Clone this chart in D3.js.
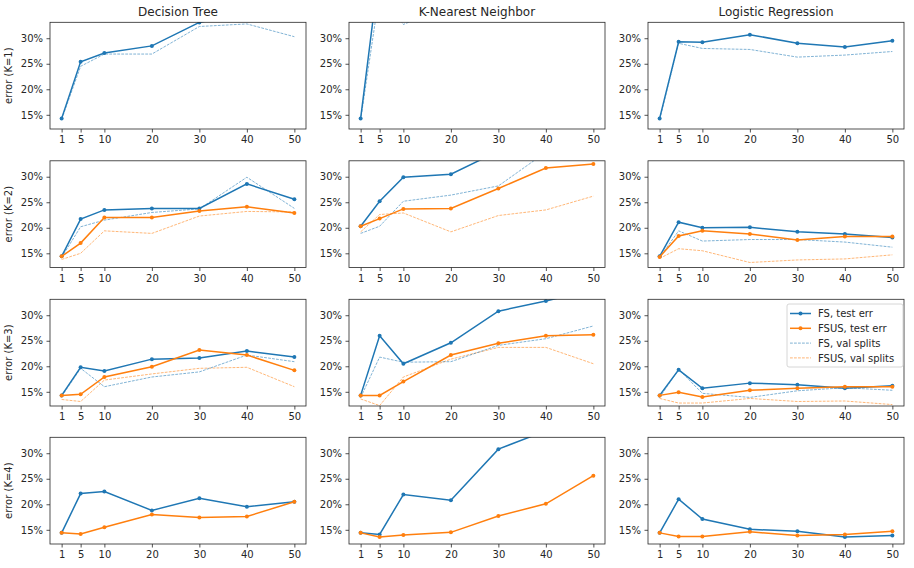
<!DOCTYPE html>
<html><head><meta charset="utf-8">
<script src="https://cdn.jsdelivr.net/npm/d3@7"></script>
<style>body{margin:0;background:#fff}svg{display:block}text{font-family:"DejaVu Sans",sans-serif;fill:#262626}</style>
</head><body><svg id="c" width="914" height="568"></svg>
<script>
const ks = [1,5,10,20,30,40,50];
const models = ["Decision Tree","K-Nearest Neighbor","Logistic Regression"];
const rowLabels = ["error (K=1)","error (K=2)","error (K=3)","error (K=4)"];
const yTicks = [15,20,25,30];
const seriesNames = ["FS, test err","FSUS, test err","FS, val splits","FSUS, val splits"];

// values in percent; [row K][column model]
const fsTest = [
  [[14.3,25.4,27.1,28.5,33.1,35.0,34.5],[14.3,44.0,45.0,46.0,46.5,47.0,47.5],[14.3,29.3,29.2,30.7,29.0,28.3,29.5]],
  [[14.4,21.7,23.5,23.8,23.8,28.6,25.6],[20.3,25.2,29.9,30.5,35.0,36.0,37.0],[14.4,21.1,20.0,20.1,19.2,18.8,18.1]],
  [[14.3,19.8,19.1,21.4,21.6,23.0,21.8],[14.3,26.0,20.5,24.6,30.8,32.8,35.0],[14.3,19.3,15.7,16.7,16.4,15.7,16.2]],
  [[14.4,22.1,22.5,18.8,21.2,19.5,20.5],[14.4,14.1,21.9,20.8,30.8,34.4,36.0],[14.4,21.0,17.1,15.1,14.7,13.6,13.9]]
];
const fsusTest = [
  null,
  [[14.4,17.0,22.0,22.0,23.3,24.1,22.9],[20.3,21.8,23.7,23.8,27.7,31.7,32.5],[14.3,18.4,19.4,18.8,17.6,18.3,18.3]],
  [[14.3,14.5,17.9,19.9,23.2,22.2,19.2],[14.3,14.3,17.0,22.2,24.5,26.0,26.2],[14.3,14.9,14.0,15.3,15.7,16.0,16.0]],
  [[14.4,14.2,15.5,18.0,17.4,17.6,20.5],[14.4,13.6,14.0,14.5,17.7,20.1,25.6],[14.4,13.7,13.7,14.6,13.9,14.1,14.7]]
];
const fsVal = [
  [[14.1,24.5,26.9,26.9,32.3,32.8,30.3],[14.0,39.0,32.7,36.5,38.0,39.0,40.0],[14.1,29.0,28.0,27.8,26.3,26.7,27.4]],
  [[14.2,20.2,21.5,23.0,23.7,29.9,23.8],[18.9,20.3,25.2,26.4,28.2,34.8,35.5],[14.2,19.4,17.4,17.7,17.7,17.2,16.2]],
  [[14.1,19.6,16.0,17.9,18.9,22.2,20.9],[13.9,21.8,20.8,20.9,24.1,25.4,27.9],[13.9,19.4,14.7,13.9,15.2,15.8,15.3]],
  null
];
const fsusVal = [
  null,
  [[13.8,15.0,19.4,18.9,22.3,23.2,23.1],[19.2,22.6,22.9,19.2,22.4,23.5,26.2],[14.0,15.9,15.5,13.2,13.7,13.9,14.7]],
  [[13.5,13.1,17.3,18.5,19.6,19.8,16.0],[13.6,12.3,17.9,21.4,23.7,23.7,20.5],[13.7,12.8,12.8,13.7,13.1,13.2,12.5]],
  null
];

const blue = "#1f77b4", orange = "#ff7f0e";
const colLeft = [50, 349, 648], colW = 256;
const rowTop = [22.3, 160.8, 299.3, 437.3], rowH = 106.7;

const svg = d3.select("#c");
const x = d3.scaleLinear().domain([-1.45, 52.45]).range([0, colW]);
const y = d3.scaleLinear().domain([12.22, 33.12]).range([rowH, 0]);
const line = d3.line().x((d,i)=>x(ks[i])).y(d=>y(d));

const defs = svg.append("defs");
defs.append("clipPath").attr("id","clip").append("rect").attr("width",colW).attr("height",rowH);

for (let r=0;r<4;r++){
  for (let c=0;c<3;c++){
    const g = svg.append("g").attr("transform",`translate(${colLeft[c]},${rowTop[r]})`);
    const xa = g.append("g").attr("transform",`translate(0,${rowH})`)
      .call(d3.axisBottom(x).tickValues(ks).tickSize(3.5).tickPadding(3.5).tickFormat(d3.format("d")));
    const ya = g.append("g").call(d3.axisLeft(y).tickValues(yTicks).tickSize(3.5).tickPadding(3.5).tickFormat(d=>d+"%"));
    [xa,ya].forEach(a=>{a.select(".domain").remove();a.selectAll("text").style("font-size","10px").attr("fill","#262626").style("font-family","DejaVu Sans");a.selectAll("line").attr("stroke","#262626").attr("stroke-width",0.8);});
    const pg = g.append("g").attr("clip-path","url(#clip)");
    const series = [
      {d: fsusVal[r] && fsusVal[r][c], color: orange, val: true},
      {d: fsVal[r] && fsVal[r][c], color: blue, val: true},
      {d: fsTest[r] && fsTest[r][c], color: blue, val: false},
      {d: fsusTest[r] && fsusTest[r][c], color: orange, val: false}
    ];
    series.forEach(s=>{
      if(!s.d) return;
      if(s.val){
        pg.append("path").attr("d",line(s.d)).attr("fill","none").attr("stroke",s.color)
          .attr("stroke-width",0.75).attr("stroke-dasharray","2.8,1.2").attr("opacity",0.75);
      } else {
        pg.append("path").attr("d",line(s.d)).attr("fill","none").attr("stroke",s.color).attr("stroke-width",1.5);
        pg.selectAll(null).data(s.d).enter().append("circle")
          .attr("cx",(d,i)=>x(ks[i])).attr("cy",d=>y(d)).attr("r",2).attr("fill",s.color);
      }
    });
    g.append("rect").attr("width",colW).attr("height",rowH).attr("fill","none").attr("stroke","#262626").attr("stroke-width",0.8);
    if(r===0){
      g.append("text").attr("x",colW/2).attr("y",-6).attr("text-anchor","middle").style("font-size","12px").text(models[c]);
    }
    if(c===0){
      g.append("text").attr("transform",`translate(${-38},${rowH/2}) rotate(-90)`).attr("text-anchor","middle")
        .style("font-size","10px").text(rowLabels[r]);
    }
    if(r===2 && c===2){
      const lg = g.append("g").attr("transform",`translate(${787-648},${304-299.3})`);
      lg.append("rect").attr("width",116).attr("height",63).attr("rx",2).attr("fill","#fff").attr("fill-opacity",0.8).attr("stroke","#cccccc").attr("stroke-width",0.8);
      const st = [{c:blue,v:false},{c:orange,v:false},{c:blue,v:true},{c:orange,v:true}];
      st.forEach((s,i)=>{
        const yy = 9.5 + i*14.8;
        const l = lg.append("line").attr("x1",3).attr("x2",24).attr("y1",yy).attr("y2",yy).attr("stroke",s.c);
        if(s.v){ l.attr("stroke-width",0.75).attr("stroke-dasharray","2.8,1.2").attr("opacity",0.75); }
        else { l.attr("stroke-width",1.5); lg.append("circle").attr("cx",13.5).attr("cy",yy).attr("r",2).attr("fill",s.c); }
        lg.append("text").attr("x",31).attr("y",yy+3.6).style("font-size","10px").text(seriesNames[i]);
      });
    }
  }
}
</script></body></html>
